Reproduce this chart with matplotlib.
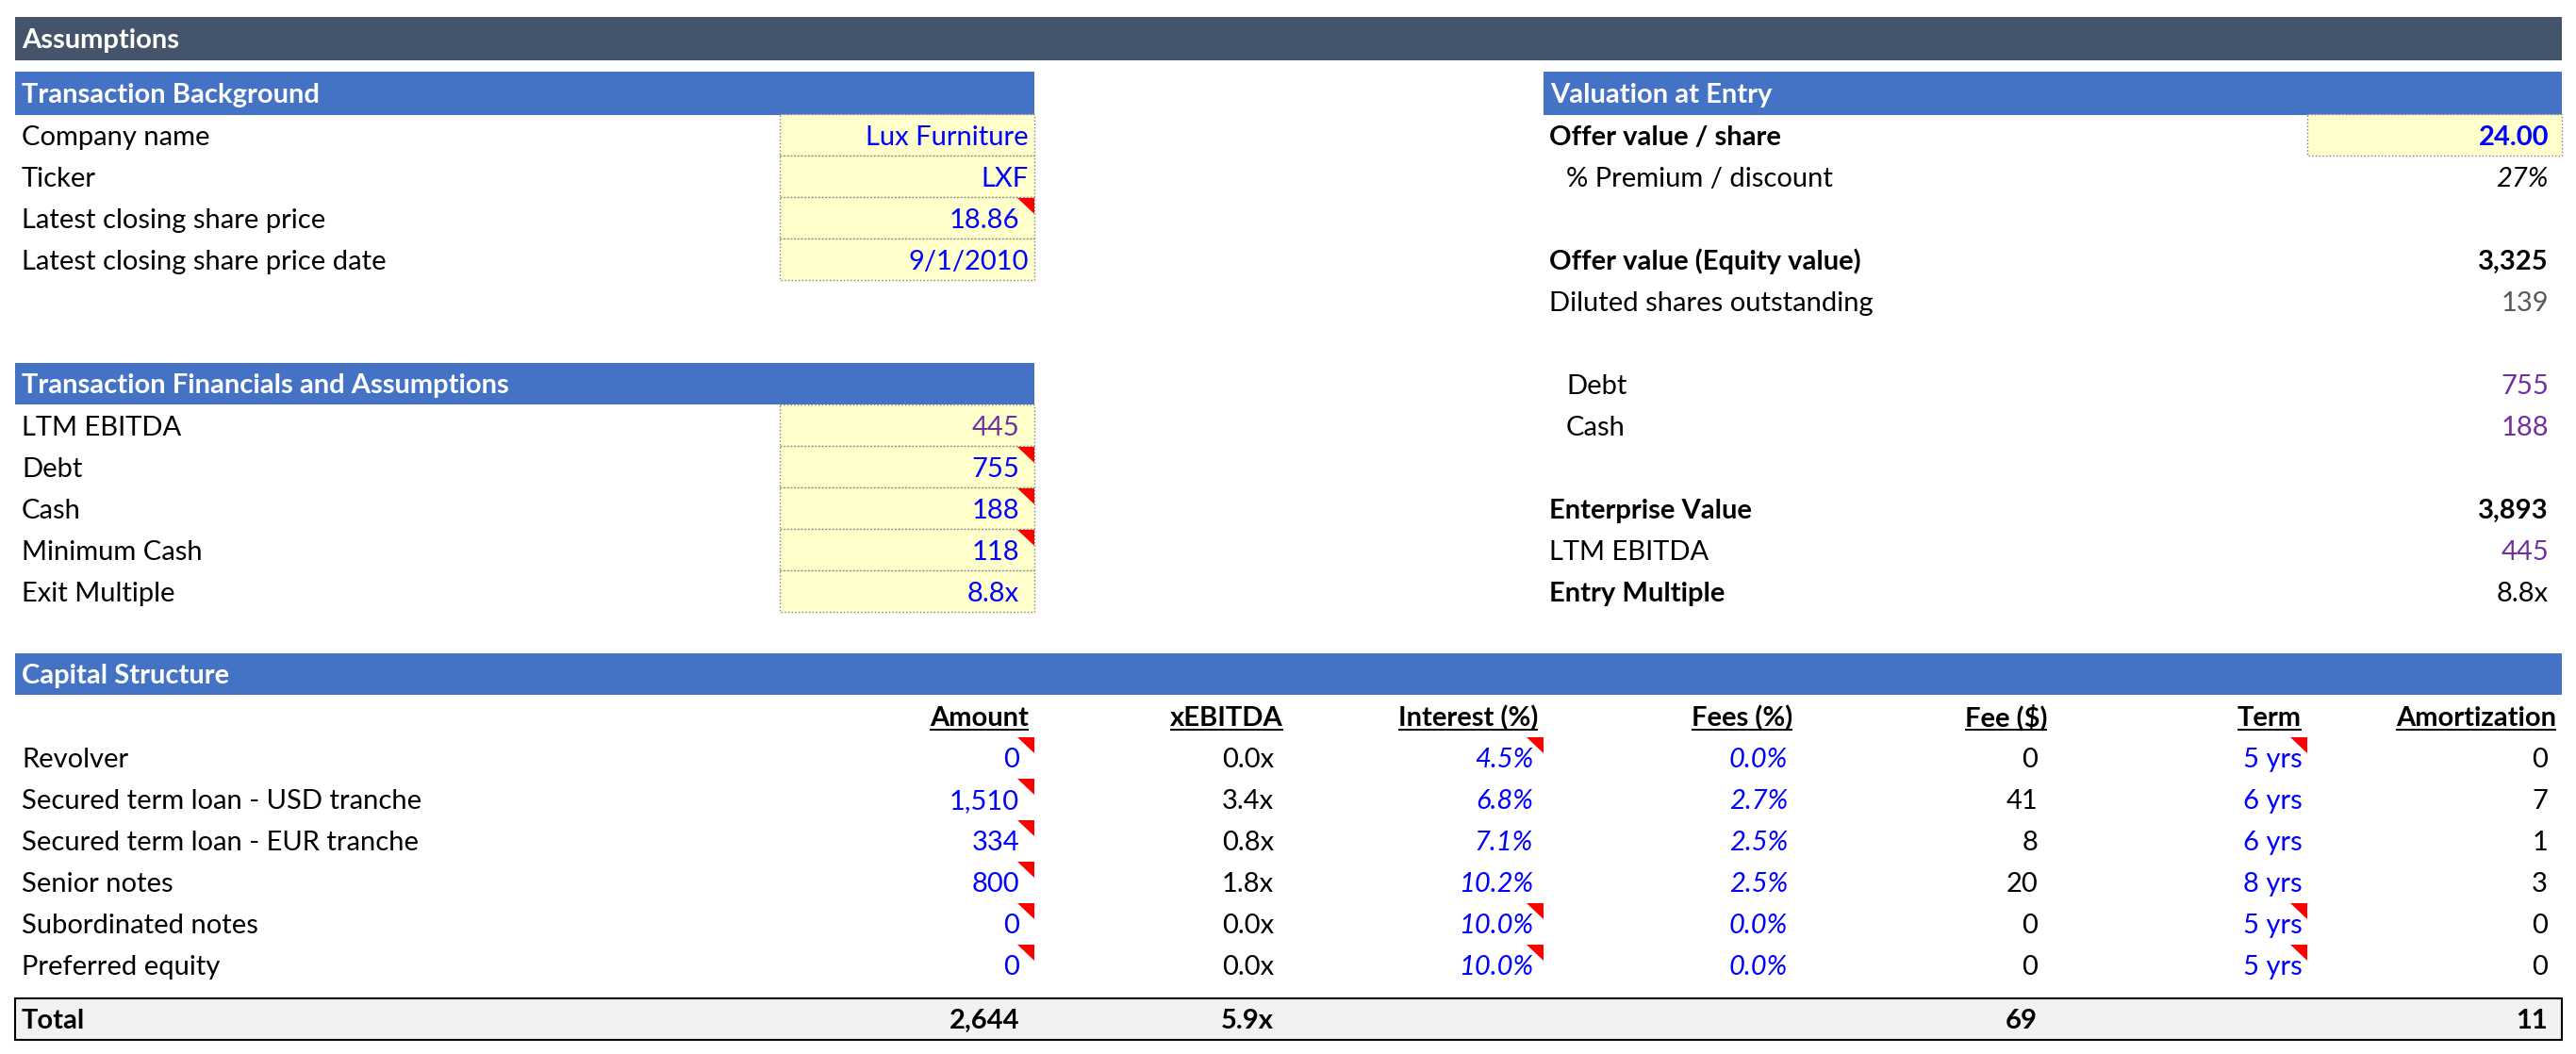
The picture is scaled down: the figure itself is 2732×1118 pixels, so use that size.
import matplotlib
matplotlib.use('Agg')
import matplotlib.pyplot as plt
from matplotlib.patches import Rectangle, Polygon

###########################################################################################################################
# Data
background_labels = ['Company name', 'Ticker', 'Latest closing share price', 'Latest closing share price date']
background_values = ['Lux Furniture', 'LXF', '18.86', '9/1/2010']
background_notes = [False, False, True, False]

financial_labels = ['LTM EBITDA', 'Debt', 'Cash', 'Minimum Cash', 'Exit Multiple']
financial_values = ['445', '755', '188', '118', '8.8x']
financial_notes = [False, True, True, True, False]

valuation_labels = ['Offer value / share', '% Premium / discount', 'Offer value (Equity value)',
                    'Diluted shares outstanding', 'Debt', 'Cash', 'Enterprise Value', 'LTM EBITDA', 'Entry Multiple']
valuation_values = ['24.00', '27%', '3,325', '139', '755', '188', '3,893', '445', '8.8x']

cap_headers = ['Amount', 'xEBITDA', 'Interest (%)', 'Fees (%)', 'Fee ($)', 'Term', 'Amortization']
tranches = ['Revolver', 'Secured term loan - USD tranche', 'Secured term loan - EUR tranche',
            'Senior notes', 'Subordinated notes', 'Preferred equity']
amount = [0, 1510, 334, 800, 0, 0]
xebitda = [0.0, 3.4, 0.8, 1.8, 0.0, 0.0]
interest = [4.5, 6.8, 7.1, 10.2, 10.0, 10.0]
fees_pct = [0.0, 2.7, 2.5, 2.5, 0.0, 0.0]
fee_usd = [0, 41, 8, 20, 0, 0]
term_yrs = [5, 6, 6, 8, 5, 5]
amortization = [0, 7, 1, 3, 0, 0]
amount_notes = [True, True, True, True, True, True]
interest_notes = [True, False, False, False, True, True]
term_notes = [True, False, False, False, True, True]
total_values = ['2,644', '5.9x', '', '', '69', '', '11']

###########################################################################################################################
# Styles
FONT = 'Lato'
FS = 21
DARK_BAR = '#44546A'
BLUE_BAR = '#4472C4'
INPUT_BLUE = '#0000FF'
LINK_PURPLE = '#7030A0'
GREY = '#595959'
YELLOW = '#FFFFCC'

plt.rcParams['font.family'] = [FONT, 'DejaVu Sans']

W, H = 2732, 1118
fig = plt.figure(figsize=(W / 100, H / 100), dpi=100)
ax = fig.add_axes([0, 0, 1, 1])
ax.set_xlim(0, W)
ax.set_ylim(H, 0)
ax.axis('off')

ROW0, ROWH = 121, 44
BASE = 11


def row_top(r):
    return ROW0 + ROWH * r


def put(x, r, s, ha='left', **kw):
    return ax.text(x, row_top(r) + ROWH - BASE, s, ha=ha, va='baseline', fontsize=FS, **kw)


def bar(x0, x1, y0, y1, title, color):
    ax.add_patch(Rectangle((x0, y0), x1 - x0, y1 - y0, facecolor=color, edgecolor='none'))
    ax.text(x0 + 7, y1 - 12.5, title, ha='left', va='baseline', fontsize=FS, color='white', fontweight='bold')


def input_cell(x0, x1, r):
    ax.add_patch(Rectangle((x0, row_top(r)), x1 - x0, ROWH, facecolor=YELLOW, edgecolor='#808080',
                           linestyle=':', linewidth=1.0))


def note(xr, r):
    t = row_top(r)
    ax.add_patch(Polygon([(xr - 18, t + 1), (xr, t + 1), (xr, t + 18)], closed=True,
                         facecolor='#FF0000', edgecolor='none'))


## Title and section bars
bar(16, 2717, 18, 64, 'Assumptions', DARK_BAR)
bar(16, 1097, 76, 122, 'Transaction Background', BLUE_BAR)
bar(1637, 2717, 76, 122, 'Valuation at Entry', BLUE_BAR)
bar(16, 1097, row_top(6), row_top(7), 'Transaction Financials and Assumptions', BLUE_BAR)
bar(16, 2717, row_top(13), row_top(14), 'Capital Structure', BLUE_BAR)

## Transaction background
for i, (lab, val) in enumerate(zip(background_labels, background_values)):
    input_cell(827, 1097, i)
    put(23, i, lab)
    is_num = val[0].isdigit() and '/' not in val
    put(1081 if is_num else 1091, i, val, ha='right', color=INPUT_BLUE)
    if background_notes[i]:
        note(1097, i)

## Transaction financials
for i, (lab, val) in enumerate(zip(financial_labels, financial_values)):
    r = 7 + i
    input_cell(827, 1097, r)
    put(23, r, lab)
    put(1081, r, val, ha='right', color=LINK_PURPLE if lab == 'LTM EBITDA' else INPUT_BLUE)
    if financial_notes[i]:
        note(1097, r)

## Valuation at entry
val_rows = [0, 1, 3, 4, 6, 7, 9, 10, 11]
val_bold_label = [True, False, True, False, False, False, True, False, True]
val_indent = [False, True, False, False, True, True, False, False, False]
val_style = [
    dict(color=INPUT_BLUE, fontweight='bold'),
    dict(color='black', fontstyle='italic'),
    dict(color='black', fontweight='bold'),
    dict(color=GREY),
    dict(color=LINK_PURPLE),
    dict(color=LINK_PURPLE),
    dict(color='black', fontweight='bold'),
    dict(color=LINK_PURPLE),
    dict(color='black'),
]
input_cell(2447, 2717, 0)
for lab, val, r, b, ind, st in zip(valuation_labels, valuation_values, val_rows, val_bold_label, val_indent, val_style):
    put(1661 if ind else 1643, r, lab, fontweight='bold' if b else 'normal')
    put(2703, r, val, ha='right', **st)

## Capital structure
col_right = [1097, 1367, 1637, 1907, 2177, 2447, 2717]
val_pad = [16, 16, 11, 11, 16, 5, 15]
header_pad = 6

headers = []
for h, xr in zip(cap_headers, col_right):
    headers.append(put(xr - header_pad, 14, h, ha='right', fontweight='bold'))

columns = [
    ([f'{v:,}' for v in amount], dict(color=INPUT_BLUE)),
    ([f'{v:.1f}x' for v in xebitda], dict(color='black')),
    ([f'{v:.1f}%' for v in interest], dict(color=INPUT_BLUE, fontstyle='italic')),
    ([f'{v:.1f}%' for v in fees_pct], dict(color=INPUT_BLUE, fontstyle='italic')),
    ([f'{v:,}' for v in fee_usd], dict(color='black')),
    ([f'{v} yrs' for v in term_yrs], dict(color=INPUT_BLUE)),
    ([f'{v:,}' for v in amortization], dict(color='black')),
]

for i, name in enumerate(tranches):
    r = 15 + i
    put(23, r, name)
    for c, (vals, st) in enumerate(columns):
        put(col_right[c] - val_pad[c], r, vals[i], ha='right', **st)
    if amount_notes[i]:
        note(col_right[0], r)
    if interest_notes[i]:
        note(col_right[2], r)
    if term_notes[i]:
        note(col_right[5], r)

## Total row
ty0, ty1 = 1059, 1103
ax.add_patch(Rectangle((16, ty0), 2717 - 16, ty1 - ty0, facecolor='#F2F2F2', edgecolor='black', linewidth=1.5))
ax.text(23, ty1 - 12, 'Total', ha='left', va='baseline', fontsize=FS, fontweight='bold')
for c, v in enumerate(total_values):
    if v:
        ax.text(col_right[c] - val_pad[c], ty1 - 12, v, ha='right', va='baseline', fontsize=FS, fontweight='bold')

## Underline the column headers
fig.canvas.draw()
renderer = fig.canvas.get_renderer()
inv = ax.transData.inverted()
for t in headers:
    bb = t.get_window_extent(renderer)
    (x0, _), (x1, _) = inv.transform([(bb.x0, bb.y0), (bb.x1, bb.y1)])
    yl = row_top(14) + ROWH - BASE + 3.5
    ax.plot([x0, x1], [yl, yl], color='black', linewidth=1.4, solid_capstyle='butt')

fig.savefig('out.png', dpi=100)
